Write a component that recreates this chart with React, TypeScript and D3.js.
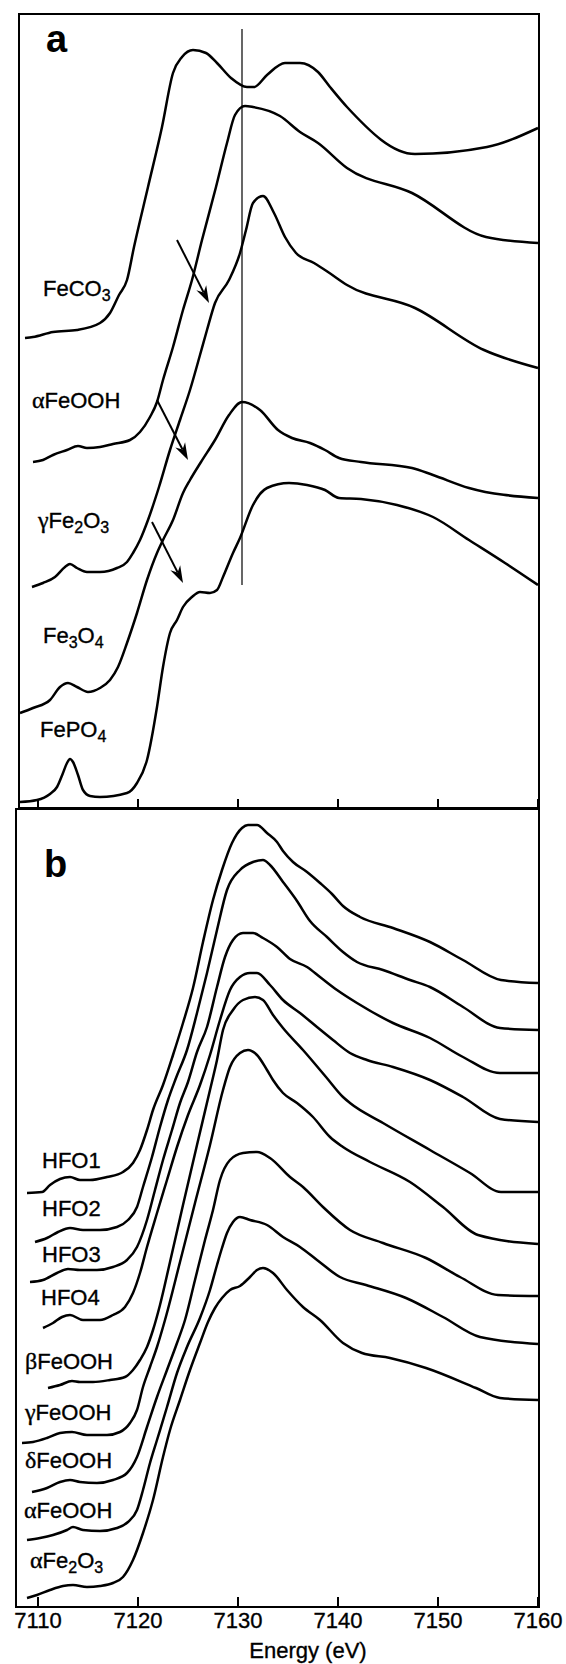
import React from "react";
import * as d3 from "d3";

// energy axis (eV)
const energyTicks = [7110, 7120, 7130, 7140, 7150, 7160];

// ---- panel a: reference spectra, [energy, normalized absorbance + offset]
const feCO3 = [
  [7108.7, 4.7], [7109.5, 4.71], [7111.5, 4.76], [7113.9, 4.78], [7116.2, 4.85], [7117.2, 4.95],
  [7118.1, 5.13], [7118.9, 5.28], [7119.6, 5.61], [7121.0, 6.21], [7122.4, 6.81], [7123.5, 7.35],
  [7124.4, 7.51], [7125.5, 7.58], [7126.8, 7.55], [7127.9, 7.45], [7129.3, 7.3], [7130.9, 7.21],
  [7131.6, 7.21], [7132.9, 7.33], [7134.7, 7.45], [7136.2, 7.45], [7138.0, 7.36], [7139.2, 7.21],
  [7140.9, 7.01], [7147.7, 6.54], [7154.9, 6.61], [7160, 6.8],
];
const aFeOOH_a = [
  [7109.5, 3.46], [7110.5, 3.48], [7111.5, 3.53], [7112.9, 3.58], [7114.0, 3.62], [7114.9, 3.6],
  [7116.2, 3.61], [7117.5, 3.64], [7119.2, 3.68], [7120.2, 3.76], [7121.2, 3.91], [7121.9, 4.06],
  [7122.5, 4.28], [7123.5, 4.61], [7124.5, 4.98], [7125.4, 5.28], [7126.4, 5.68], [7127.8, 6.21],
  [7128.9, 6.65], [7129.7, 6.93], [7130.7, 7.02], [7131.5, 7.01], [7134.2, 6.92], [7136.2, 6.76],
  [7138.0, 6.65], [7140.9, 6.4], [7147.4, 6.15], [7154.8, 5.71], [7160, 5.65],
];
const gFe2O3 = [
  [7109.4, 2.21], [7110.5, 2.25], [7111.7, 2.31], [7112.7, 2.41], [7113.2, 2.44], [7113.9, 2.4],
  [7114.9, 2.36], [7116.2, 2.36], [7117.9, 2.4], [7118.9, 2.46], [7119.5, 2.55], [7120.2, 2.68],
  [7121.0, 2.88], [7122.1, 3.21], [7123.2, 3.58], [7124.2, 3.88], [7125.2, 4.18], [7126.2, 4.53],
  [7126.9, 4.78], [7127.7, 5.05], [7129.1, 5.28], [7130.2, 5.55], [7130.8, 5.78], [7131.5, 6.05],
  [7132.5, 6.12], [7133.6, 5.95], [7134.7, 5.71], [7135.8, 5.55], [7137.6, 5.45], [7139.0, 5.36],
  [7140.9, 5.23], [7147.7, 5.0], [7154.6, 4.58], [7160, 4.4],
];
const fe3O4 = [
  [7108.2, 0.95], [7109.5, 1.0], [7111.2, 1.08], [7112.2, 1.21], [7113.0, 1.25], [7113.9, 1.21],
  [7115.0, 1.16], [7116.2, 1.2], [7117.2, 1.28], [7118.0, 1.41], [7118.9, 1.65], [7119.9, 1.95],
  [7120.9, 2.28], [7121.9, 2.55], [7122.5, 2.68], [7123.5, 2.88], [7124.5, 3.15], [7125.2, 3.28],
  [7126.3, 3.46], [7127.7, 3.68], [7129.1, 3.93], [7130.4, 4.06], [7132.2, 3.98], [7134.0, 3.78],
  [7135.4, 3.7], [7137.2, 3.65], [7138.7, 3.58], [7140.1, 3.5], [7142.3, 3.46], [7147.4, 3.4],
  [7149.5, 3.33], [7153.1, 3.2], [7160, 3.1],
];
const fePO4 = [
  [7108.2, 0.06], [7109.9, 0.08], [7111.2, 0.14], [7111.9, 0.21], [7112.5, 0.35], [7112.9, 0.45],
  [7113.2, 0.49], [7113.5, 0.46], [7114.0, 0.33], [7114.5, 0.18], [7115.2, 0.12], [7116.2, 0.11],
  [7118.9, 0.15], [7119.9, 0.25], [7120.9, 0.48], [7121.9, 1.01], [7122.5, 1.41], [7123.2, 1.75],
  [7123.9, 1.88], [7124.5, 2.01], [7125.4, 2.11], [7126.2, 2.16], [7127.2, 2.15], [7127.9, 2.18],
  [7128.5, 2.31], [7129.5, 2.55], [7130.2, 2.7], [7131.5, 3.03], [7132.9, 3.2], [7135.1, 3.25],
  [7136.9, 3.23], [7138.7, 3.18], [7140.1, 3.1], [7142.3, 3.09], [7145.9, 3.03], [7149.5, 2.91],
  [7153.1, 2.68], [7156.7, 2.45], [7160, 2.23],
];

// ---- panel b: ferric (hydr)oxides
const hfo1 = [
  [7108.9, 4.14], [7110.4, 4.15], [7111.2, 4.22], [7112.2, 4.28], [7113.2, 4.3], [7114.2, 4.27],
  [7115.2, 4.27], [7116.9, 4.3], [7118.5, 4.35], [7119.5, 4.44], [7120.2, 4.57], [7120.9, 4.77],
  [7121.5, 4.97], [7122.5, 5.22], [7123.5, 5.52], [7124.5, 5.84], [7125.5, 6.19], [7126.5, 6.65],
  [7127.5, 7.07], [7128.4, 7.37], [7129.4, 7.64], [7130.4, 7.79], [7131.0, 7.82], [7131.9, 7.82],
  [7132.9, 7.74], [7133.9, 7.65], [7134.5, 7.56], [7135.5, 7.45], [7136.9, 7.35], [7138.2, 7.24],
  [7139.4, 7.13], [7140.5, 7.01], [7142.2, 6.9], [7145.5, 6.79], [7149.2, 6.65], [7152.5, 6.47],
  [7156.3, 6.27], [7160, 6.24],
];
const hfo2 = [
  [7109.7, 3.65], [7110.9, 3.69], [7112.0, 3.75], [7113.2, 3.79], [7114.5, 3.77], [7116.2, 3.77],
  [7117.9, 3.8], [7119.0, 3.87], [7119.9, 4.0], [7120.5, 4.2], [7121.4, 4.5], [7122.2, 4.8],
  [7123.0, 5.07], [7123.8, 5.29], [7124.9, 5.57], [7125.9, 5.94], [7126.9, 6.34], [7127.9, 6.77],
  [7128.9, 7.17], [7130.2, 7.37], [7131.5, 7.45], [7132.5, 7.47], [7133.2, 7.42], [7134.5, 7.25],
  [7135.9, 7.06], [7137.2, 6.86], [7138.9, 6.7], [7140.5, 6.55], [7141.9, 6.45], [7144.5, 6.37],
  [7147.2, 6.27], [7149.2, 6.2], [7152.5, 6.0], [7156.2, 5.79], [7160, 5.77],
];
const hfo3 = [
  [7109.2, 3.25], [7110.5, 3.27], [7111.9, 3.34], [7113.0, 3.38], [7114.2, 3.37], [7115.9, 3.37],
  [7117.5, 3.4], [7118.9, 3.47], [7119.9, 3.6], [7120.9, 3.87], [7121.7, 4.17], [7122.5, 4.47],
  [7123.4, 4.77], [7124.2, 5.04], [7125.0, 5.25], [7125.9, 5.55], [7126.9, 5.8], [7127.9, 6.2],
  [7128.7, 6.5], [7129.5, 6.67], [7130.5, 6.74], [7131.5, 6.74], [7132.5, 6.69], [7133.9, 6.6],
  [7135.2, 6.48], [7136.9, 6.4], [7138.2, 6.3], [7139.9, 6.17], [7141.9, 6.04], [7145.5, 5.84],
  [7149.2, 5.69], [7152.5, 5.5], [7156.2, 5.34], [7160, 5.34],
];
const hfo4 = [
  [7110.5, 2.79], [7111.5, 2.84], [7112.4, 2.9], [7113.2, 2.92], [7114.5, 2.87], [7116.2, 2.87],
  [7117.5, 2.92], [7118.7, 3.0], [7119.5, 3.14], [7120.2, 3.34], [7120.9, 3.6], [7121.9, 3.94],
  [7122.9, 4.27], [7123.9, 4.6], [7125.0, 4.92], [7126.2, 5.22], [7127.2, 5.52], [7128.2, 5.87],
  [7129.2, 6.17], [7130.2, 6.3], [7131.2, 6.34], [7131.9, 6.34], [7133.2, 6.22], [7134.5, 6.07],
  [7136.2, 5.94], [7137.9, 5.8], [7139.5, 5.67], [7141.2, 5.54], [7142.9, 5.47], [7145.5, 5.4],
  [7149.2, 5.27], [7152.5, 5.1], [7156.2, 4.88], [7160, 4.85],
];
const bFeOOH = [
  [7111.0, 2.19], [7112.2, 2.22], [7113.4, 2.26], [7114.2, 2.25], [7115.5, 2.25], [7117.2, 2.27],
  [7118.7, 2.3], [7119.5, 2.37], [7120.2, 2.47], [7120.9, 2.6], [7121.5, 2.77], [7122.2, 3.02],
  [7123.2, 3.45], [7124.5, 4.02], [7125.9, 4.62], [7127.2, 5.17], [7127.9, 5.47], [7128.5, 5.77],
  [7129.5, 5.97], [7130.5, 6.07], [7131.7, 6.1], [7132.5, 6.07], [7133.5, 5.92], [7134.5, 5.79],
  [7136.5, 5.57], [7138.8, 5.3], [7140.5, 5.1], [7141.2, 5.04], [7144.5, 4.84], [7149.2, 4.57],
  [7153.2, 4.34], [7156.3, 4.15], [7160, 4.15],
];
const gFeOOH = [
  [7108.4, 1.64], [7109.5, 1.65], [7110.9, 1.69], [7112.2, 1.74], [7113.4, 1.75], [7114.9, 1.72],
  [7116.9, 1.72], [7118.2, 1.75], [7119.2, 1.84], [7119.9, 1.97], [7120.5, 2.2], [7121.2, 2.4],
  [7121.9, 2.6], [7122.7, 2.87], [7124.2, 3.45], [7125.7, 4.04], [7127.2, 4.62], [7128.5, 5.17],
  [7129.2, 5.4], [7130.2, 5.54], [7131.0, 5.57], [7131.9, 5.52], [7132.9, 5.37], [7133.5, 5.27],
  [7134.5, 5.14], [7135.9, 5.04], [7137.5, 4.9], [7139.2, 4.7], [7140.5, 4.6], [7143.2, 4.45],
  [7147.2, 4.25], [7150.5, 4.0], [7154.0, 3.72], [7160, 3.63],
];
const dFeOOH = [
  [7109.4, 1.15], [7110.9, 1.19], [7112.2, 1.25], [7113.2, 1.27], [7114.2, 1.25], [7115.9, 1.24],
  [7117.5, 1.27], [7118.9, 1.34], [7119.9, 1.5], [7120.9, 1.8], [7121.9, 2.1], [7122.9, 2.37],
  [7123.9, 2.64], [7124.7, 2.87], [7125.7, 3.27], [7126.7, 3.67], [7127.5, 3.97], [7128.2, 4.27],
  [7129.2, 4.47], [7130.5, 4.54], [7131.9, 4.55], [7133.2, 4.49], [7135.2, 4.3], [7136.5, 4.2],
  [7138.5, 4.0], [7141.2, 3.77], [7144.5, 3.64], [7148.8, 3.49], [7152.2, 3.3], [7156.0, 3.12],
  [7160, 3.11],
];
const aFeOOH_b = [
  [7108.9, 0.67], [7110.2, 0.69], [7111.5, 0.72], [7112.9, 0.77], [7113.5, 0.8], [7114.5, 0.77],
  [7116.2, 0.76], [7117.9, 0.79], [7119.0, 0.85], [7119.9, 0.97], [7120.5, 1.17], [7121.2, 1.44],
  [7121.9, 1.67], [7122.9, 2.0], [7123.9, 2.34], [7124.9, 2.6], [7126.2, 2.89], [7127.2, 3.17],
  [7127.9, 3.42], [7128.4, 3.59], [7128.9, 3.74], [7129.5, 3.85], [7130.2, 3.9], [7131.2, 3.87],
  [7132.9, 3.82], [7134.5, 3.7], [7136.2, 3.6], [7137.9, 3.47], [7140.2, 3.3], [7142.8, 3.22],
  [7146.8, 3.09], [7150.5, 2.9], [7154.2, 2.7], [7160, 2.63],
];
const aFe2O3 = [
  [7108.9, 0.09], [7109.9, 0.12], [7111.2, 0.17], [7112.5, 0.21], [7113.5, 0.22], [7114.9, 0.2],
  [7116.2, 0.21], [7117.5, 0.24], [7118.5, 0.3], [7119.5, 0.47], [7120.5, 0.74], [7121.5, 1.07],
  [7122.5, 1.5], [7123.2, 1.77], [7124.2, 2.07], [7125.2, 2.37], [7126.2, 2.64], [7127.0, 2.85],
  [7127.7, 2.99], [7128.4, 3.09], [7129.2, 3.17], [7130.2, 3.21], [7131.2, 3.3], [7131.9, 3.37],
  [7132.5, 3.39], [7133.5, 3.34], [7134.9, 3.17], [7136.5, 3.0], [7138.2, 2.87], [7140.5, 2.64],
  [7142.4, 2.54], [7145.2, 2.49], [7148.8, 2.39], [7153.8, 2.19], [7156.2, 2.09], [7160, 2.07],
];

// sample names ("_n" = subscript)
const namesA = ["FeCO_3", "αFeOOH", "γFe_2O_3", "Fe_3O_4", "FePO_4"];
const namesB = ["HFO1", "HFO2", "HFO3", "HFO4", "βFeOOH", "γFeOOH", "δFeOOH", "αFeOOH", "αFe_2O_3"];

// where each name sits, in data units [energy, absorbance]
const labelPosA = [[7110.5, 5.12], [7109.4, 4.0], [7110.0, 2.8], [7110.5, 1.65], [7110.2, 0.71]];
const labelPosB = [
  [7110.4, 4.39], [7110.4, 3.91], [7110.4, 3.45], [7110.3, 3.02], [7108.7, 2.38],
  [7108.7, 1.87], [7108.7, 1.39], [7108.6, 0.89], [7109.2, 0.39],
];

// pre-edge arrows in panel a: [E0, A0, E1, A1]
const arrowsA = [
  [7123.9, 5.68, 7127.1, 5.05],
  [7121.9, 4.08, 7125.0, 3.48],
  [7121.4, 2.86, 7124.5, 2.25],
];
const markerEnergy = 7130.4;
const markerRange = [2.23, 7.79];

const W = 566;
const H = 1664;
const FONT = "'Liberation Sans', Arial, Helvetica, sans-serif";
const FS = 22;

const x = d3.scaleLinear().domain([7110, 7160]).range([38, 538]);
const yA = d3.scaleLinear().domain([0, 7.94]).range([808, 14]);
const yB = d3.scaleLinear().domain([0, 7.98]).range([1607, 809]);

function Name({ text, px, py }) {
  const parts = [];
  const re = /([αβγδ])|_(\d)|([^αβγδ_]+)/g;
  let m;
  let sub = false;
  let k = 0;
  while ((m = re.exec(text))) {
    if (m[1]) {
      parts.push(
        <tspan key={k++} fontFamily="'Liberation Serif', 'Times New Roman', serif" fontSize={24} dy={sub ? -5 : 0}>
          {m[1]}
        </tspan>
      );
      sub = false;
    } else if (m[2]) {
      parts.push(
        <tspan key={k++} fontSize={16} dy={sub ? 0 : 5}>
          {m[2]}
        </tspan>
      );
      sub = true;
    } else {
      parts.push(
        <tspan key={k++} dy={sub ? -5 : 0}>
          {m[3]}
        </tspan>
      );
      sub = false;
    }
  }
  return (
    <text x={px} y={py} fontFamily={FONT} fontSize={FS} fill="#000" stroke="#000" strokeWidth={0.35}>
      {parts}
    </text>
  );
}

function Arrow({ x0, y0, x1, y1 }) {
  const a = Math.atan2(y1 - y0, x1 - x0);
  const len = 17;
  const hw = 5.5;
  const bx = x1 - len * Math.cos(a);
  const by = y1 - len * Math.sin(a);
  const nx = x1 - len * 0.7 * Math.cos(a);
  const ny = y1 - len * 0.7 * Math.sin(a);
  const px = -Math.sin(a) * hw;
  const py = Math.cos(a) * hw;
  return (
    <g>
      <line x1={x0} y1={y0} x2={nx} y2={ny} stroke="#000" strokeWidth={2} />
      <polygon points={`${x1},${y1} ${bx + px},${by + py} ${nx},${ny} ${bx - px},${by - py}`} fill="#000" />
    </g>
  );
}

export default function App() {
  const lineA = d3.line().x((d) => x(d[0])).y((d) => yA(d[1])).curve(d3.curveMonotoneX);
  const lineB = d3.line().x((d) => x(d[0])).y((d) => yB(d[1])).curve(d3.curveMonotoneX);

  const seriesA = [feCO3, aFeOOH_a, gFe2O3, fe3O4, fePO4];
  const seriesB = [hfo1, hfo2, hfo3, hfo4, bFeOOH, gFeOOH, dFeOOH, aFeOOH_b, aFe2O3];

  const [ax0, ax1] = [19, x(7160) + 1];
  const [bx0, bx1] = [16, x(7160) + 1];

  return (
    <svg
      width={W}
      height={H}
      viewBox={`0 0 ${W} ${H}`}
      style={{ position: "absolute", left: 0, top: 0, background: "#fff" }}
    >
      {/* frames */}
      <rect x={ax0} y={yA(7.94)} width={ax1 - ax0} height={yA(0) - yA(7.94)} fill="none" stroke="#000" strokeWidth={2} />
      <rect x={bx0} y={yB(7.98)} width={bx1 - bx0} height={yB(0) - yB(7.98)} fill="none" stroke="#000" strokeWidth={2} />

      {/* ticks */}
      {energyTicks.map((t) => (
        <g key={t}>
          <line x1={x(t)} x2={x(t)} y1={yA(0)} y2={yA(0) - 9} stroke="#000" strokeWidth={2} />
          <line x1={x(t)} x2={x(t)} y1={yB(0)} y2={yB(0) - 10} stroke="#000" strokeWidth={2} />
          <text x={x(t)} y={1628} textAnchor="middle" fontFamily={FONT} fontSize={FS} stroke="#000" strokeWidth={0.35}>
            {t}
          </text>
        </g>
      ))}
      <text x={308} y={1658} textAnchor="middle" fontFamily={FONT} fontSize={FS} stroke="#000" strokeWidth={0.35}>
        Energy (eV)
      </text>

      {/* panel letters */}
      <text x={46} y={52} fontFamily={FONT} fontWeight="bold" fontSize={38}>a</text>
      <text x={44} y={877} fontFamily={FONT} fontWeight="bold" fontSize={38}>b</text>

      {/* marker line */}
      <line
        x1={x(markerEnergy)}
        x2={x(markerEnergy)}
        y1={yA(markerRange[1])}
        y2={yA(markerRange[0])}
        stroke="#000"
        strokeWidth={1.2}
      />

      {/* spectra */}
      {seriesA.map((s, i) => (
        <path key={"a" + i} d={lineA(s)} fill="none" stroke="#000" strokeWidth={2.5} strokeLinejoin="round" />
      ))}
      {seriesB.map((s, i) => (
        <path key={"b" + i} d={lineB(s)} fill="none" stroke="#000" strokeWidth={2.5} strokeLinejoin="round" />
      ))}

      {arrowsA.map((a, i) => (
        <Arrow key={i} x0={x(a[0])} y0={yA(a[1])} x1={x(a[2])} y1={yA(a[3])} />
      ))}

      {namesA.map((n, i) => (
        <Name key={n} text={n} px={x(labelPosA[i][0])} py={yA(labelPosA[i][1])} />
      ))}
      {namesB.map((n, i) => (
        <Name key={n + i} text={n} px={x(labelPosB[i][0])} py={yB(labelPosB[i][1])} />
      ))}
    </svg>
  );
}
